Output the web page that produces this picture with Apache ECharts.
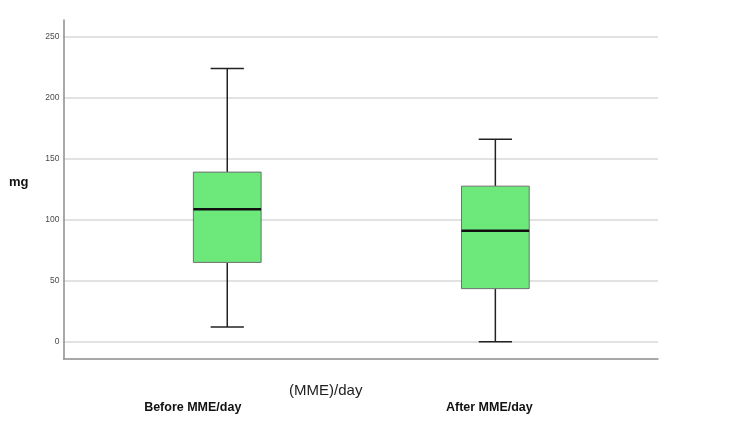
<!DOCTYPE html>
<html>
<head>
<meta charset="utf-8">
<script src="https://cdn.jsdelivr.net/npm/echarts@6.0.0/dist/echarts.min.js"></script>
<style>
  html, body { margin: 0; padding: 0; background: #ffffff; }
  #chart { width: 750px; height: 439px; }
</style>
</head>
<body>
<div id="chart"></div>
<script>
// data
const categories = ['Before MME/day', 'After MME/day']
const whiskerLow = [12, 0]
const q1 = [65, 43.5]
const median = [108.5, 91]
const q3 = [139, 127.5]
const whiskerHigh = [224, 166]
const yTicks = [0, 50, 100, 150, 200, 250]

const chart = echarts.init(document.getElementById('chart'))
const font = 'Liberation Sans, Arial, Helvetica, sans-serif'

const boxData = categories.map((c, i) => [i, whiskerLow[i], q1[i], median[i], q3[i], whiskerHigh[i]])

// small nudge per label, the source centres them a bit left of the boxes
const labelShift = [69, 12]

const renderBox = (params, api) => {
  const idx = api.value(0)
  const band = api.size([1, 0])[0]
  const boxW = band * 0.2526
  const capW = band * 0.124
  const lo = api.coord([idx, api.value(1)])
  const b1 = api.coord([idx, api.value(2)])
  const md = api.coord([idx, api.value(3)])
  const b3 = api.coord([idx, api.value(4)])
  const hi = api.coord([idx, api.value(5)])
  const x = lo[0]
  const lineStyle = { stroke: '#222222', lineWidth: 1.5 }
  return {
    type: 'group',
    children: [
      { type: 'line', shape: { x1: x, y1: hi[1], x2: x, y2: b3[1] }, style: lineStyle },
      { type: 'line', shape: { x1: x, y1: b1[1], x2: x, y2: lo[1] }, style: lineStyle },
      { type: 'line', shape: { x1: x - capW / 2, y1: hi[1], x2: x + capW / 2, y2: hi[1] }, style: lineStyle },
      { type: 'line', shape: { x1: x - capW / 2, y1: lo[1], x2: x + capW / 2, y2: lo[1] }, style: lineStyle },
      {
        type: 'rect',
        shape: { x: x - boxW / 2, y: b3[1], width: boxW, height: b1[1] - b3[1] },
        style: { fill: '#6de87a', stroke: '#707070', lineWidth: 1 }
      },
      { type: 'line', shape: { x1: x - boxW / 2, y1: md[1], x2: x + boxW / 2, y2: md[1] }, style: { stroke: '#111111', lineWidth: 2.5 } }
    ]
  }
}

const option = {
  backgroundColor: '#ffffff',
  animation: false,
  grid: [
    // gridlines + tick labels
    { left: 63.5, right: 92, top: 36.7, bottom: 97.3 },
    // axis frame
    { left: 63.5, right: 92, top: 20, bottom: 80.7 },
    // boxes
    { left: 93.2, right: 120.6, top: 36.7, bottom: 97.3 }
  ],
  xAxis: [
    { gridIndex: 0, type: 'value', min: 0, max: 1, show: false },
    {
      gridIndex: 1,
      type: 'value',
      min: 0,
      max: 1,
      axisLine: { show: true, lineStyle: { color: '#8c8c8c', width: 1.5 } },
      axisTick: { show: false },
      axisLabel: { show: false },
      splitLine: { show: false },
      name: '(MME)/day',
      nameLocation: 'middle',
      nameGap: 25,
      nameTextStyle: { fontFamily: font, fontSize: 15, color: '#222222', padding: [0, 70, 0, 0] }
    },
    {
      gridIndex: 2,
      type: 'category',
      data: categories.map((c, i) => ({
        value: c,
        textStyle: { padding: [0, labelShift[i], 0, 0] }
      })),
      axisLine: { show: false },
      axisTick: { show: false },
      splitLine: { show: false },
      axisLabel: {
        margin: 59,
        fontFamily: font,
        fontSize: 12.5,
        fontWeight: 'bold',
        color: '#111111'
      }
    }
  ],
  yAxis: [
    {
      gridIndex: 0,
      type: 'value',
      min: 0,
      max: 250,
      interval: 50,
      axisLine: { show: false },
      axisTick: { show: false },
      axisLabel: {
        margin: 4,
        fontFamily: font,
        fontSize: 8.5,
        color: '#4a4a4a',
        formatter: v => (yTicks.includes(v) ? String(v) : '')
      },
      splitLine: { show: true, lineStyle: { color: '#d8d8d8', width: 1.5 } }
    },
    {
      gridIndex: 1,
      type: 'value',
      min: 0,
      max: 1,
      axisLine: { show: true, lineStyle: { color: '#8c8c8c', width: 1.5 } },
      axisTick: { show: false },
      axisLabel: { show: false },
      splitLine: { show: false },
      name: 'mg',
      nameLocation: 'middle',
      nameRotate: 0,
      nameGap: 35,
      nameTextStyle: { fontFamily: font, fontSize: 13, fontWeight: 'bold', color: '#111111', verticalAlign: 'bottom' }
    },
    { gridIndex: 2, type: 'value', min: 0, max: 250, show: false }
  ],
  series: [
    {
      type: 'custom',
      xAxisIndex: 2,
      yAxisIndex: 2,
      renderItem: renderBox,
      encode: { x: 0, y: [1, 2, 3, 4, 5] },
      data: boxData
    }
  ]
}

chart.setOption(option)
</script>
</body>
</html>
